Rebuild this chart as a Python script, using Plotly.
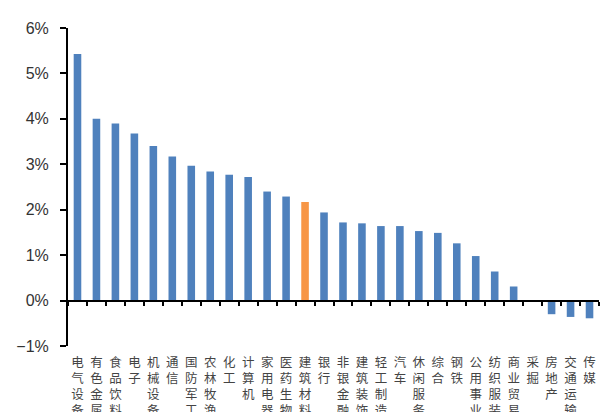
import plotly.graph_objects as go

categories = ["电气设备", "有色金属", "食品饮料", "电子", "机械设备", "通信", "国防军工",
              "农林牧渔", "化工", "计算机", "家用电器", "医药生物", "建筑材料", "银行",
              "非银金融", "建筑装饰", "轻工制造", "汽车", "休闲服务", "综合", "钢铁",
              "公用事业", "纺织服装", "商业贸易", "采掘", "房地产", "交通运输", "传媒"]
values = [5.43, 4.00, 3.90, 3.68, 3.40, 3.17, 2.97, 2.84, 2.77, 2.72, 2.40, 2.29,
          2.17, 1.94, 1.72, 1.70, 1.64, 1.64, 1.53, 1.49, 1.26, 0.98, 0.64, 0.31,
          0.0, -0.30, -0.36, -0.39]
highlight = "建筑材料"

y_ticks = [-1, 0, 1, 2, 3, 4, 5, 6]
y_ticktext = ["−1%", "0%", "1%", "2%", "3%", "4%", "5%", "6%"]

colors = ["#F79646" if c == highlight else "#4F81BD" for c in categories]
vertical_labels = ["<br>".join(list(c)) for c in categories]
x_range = [-0.5, len(categories) - 0.5]

fig = go.Figure()
fig.add_trace(go.Bar(x=categories, y=values, marker=dict(color=colors, line=dict(width=0)),
                     showlegend=False, hoverinfo="x+y"))
fig.add_trace(go.Scatter(x=categories, y=[0] * len(categories), mode="none",
                         xaxis="x2", yaxis="y", showlegend=False, hoverinfo="skip"))

fig.update_layout(
    width=601, height=412,
    margin=dict(l=67.5, r=1.5, t=28, b=66, autoexpand=False),
    paper_bgcolor="white", plot_bgcolor="white",
    bargap=0.6,
    font=dict(family="Liberation Sans, Arial, sans-serif"),
    xaxis=dict(
        type="category", range=x_range, tickmode="array", tickvals=categories,
        ticktext=vertical_labels,
        showline=False, ticks="", showgrid=False, zeroline=False,
        tickangle=0, automargin=False, ticklabelstandoff=7,
        tickfont=dict(family="Noto Sans CJK SC", size=12.5, color="#444444"),
    ),
    xaxis2=dict(
        type="category", range=x_range, overlaying="x", anchor="free", position=1 / 7,
        showline=True, linecolor="black", linewidth=2,
        ticks="outside", ticklen=4, tickwidth=2, tickcolor="black",
        tickson="boundaries", showticklabels=False, showgrid=False, zeroline=False,
    ),
    yaxis=dict(
        range=[-1, 6], tickmode="array", tickvals=y_ticks, ticktext=y_ticktext,
        showline=True, linecolor="black", linewidth=2,
        ticks="outside", ticklen=6, tickwidth=2, tickcolor="black",
        showgrid=False, zeroline=False, automargin=False, ticklabelstandoff=8,
        tickfont=dict(family="Liberation Sans, Arial, sans-serif", size=16, color="#333333"),
    ),
)

fig.write_html("out.html", config={"displayModeBar": False},
               post_script="document.body.style.margin='0px';")
